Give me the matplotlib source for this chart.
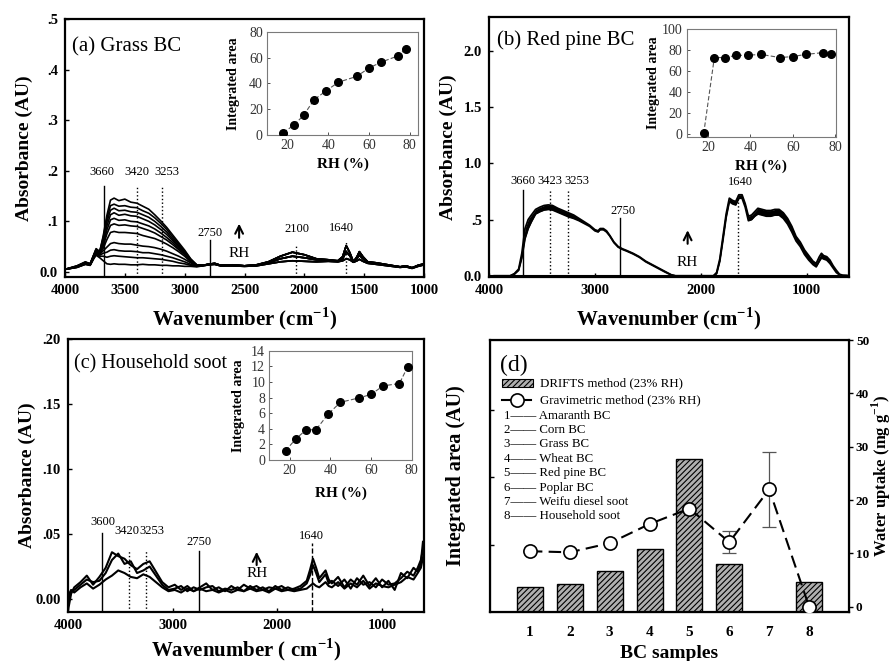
import matplotlib
matplotlib.use("Agg")
import matplotlib.pyplot as plt
from matplotlib.patches import Rectangle

plt.rcParams['font.family'] = ['Liberation Serif', 'DejaVu Serif']
plt.rcParams['mathtext.fontset'] = 'custom'
plt.rcParams['mathtext.rm'] = 'Liberation Serif'
plt.rcParams['mathtext.bf'] = 'Liberation Serif:bold'
plt.rcParams['hatch.linewidth'] = 0.8

# ---------------- data: panel (a) Grass BC ----------------
W_OH = [4000, 3900, 3830, 3790, 3760, 3740, 3710, 3680, 3650, 3620, 3590, 3550, 3500,
        3450, 3400, 3350, 3300, 3250, 3200, 3150, 3100, 3050, 3000, 2950, 2900]
A_OH = [
    [0.005, 0.009, 0.015, 0.013, 0.026, 0.033, 0.028, 0.022, 0.016, 0.015, 0.016, 0.015, 0.015, 0.014, 0.014, 0.015, 0.014, 0.014, 0.013, 0.013, 0.012, 0.012, 0.011, 0.011, 0.010],
    [0.005, 0.009, 0.015, 0.013, 0.027, 0.035, 0.031, 0.031, 0.029, 0.031, 0.032, 0.031, 0.030, 0.029, 0.028, 0.028, 0.027, 0.026, 0.025, 0.023, 0.021, 0.018, 0.016, 0.013, 0.011],
    [0.005, 0.009, 0.016, 0.014, 0.028, 0.037, 0.033, 0.037, 0.039, 0.043, 0.044, 0.042, 0.041, 0.041, 0.040, 0.038, 0.038, 0.036, 0.034, 0.031, 0.028, 0.024, 0.020, 0.015, 0.012],
    [0.005, 0.010, 0.016, 0.014, 0.029, 0.039, 0.035, 0.042, 0.049, 0.056, 0.058, 0.056, 0.055, 0.055, 0.053, 0.051, 0.050, 0.048, 0.045, 0.041, 0.036, 0.031, 0.025, 0.018, 0.012],
    [0.005, 0.010, 0.017, 0.014, 0.030, 0.040, 0.036, 0.047, 0.064, 0.078, 0.080, 0.078, 0.078, 0.077, 0.076, 0.072, 0.069, 0.066, 0.061, 0.055, 0.048, 0.040, 0.031, 0.020, 0.013],
    [0.005, 0.010, 0.017, 0.015, 0.031, 0.041, 0.037, 0.052, 0.075, 0.092, 0.095, 0.092, 0.093, 0.091, 0.090, 0.086, 0.082, 0.077, 0.070, 0.063, 0.054, 0.044, 0.034, 0.021, 0.013],
    [0.005, 0.011, 0.018, 0.015, 0.032, 0.042, 0.038, 0.057, 0.083, 0.103, 0.106, 0.102, 0.103, 0.100, 0.099, 0.095, 0.091, 0.085, 0.077, 0.068, 0.058, 0.047, 0.036, 0.022, 0.013],
    [0.005, 0.011, 0.018, 0.015, 0.032, 0.043, 0.038, 0.062, 0.091, 0.113, 0.117, 0.112, 0.114, 0.111, 0.110, 0.105, 0.100, 0.093, 0.084, 0.074, 0.062, 0.050, 0.038, 0.023, 0.013],
    [0.005, 0.011, 0.019, 0.016, 0.033, 0.044, 0.039, 0.066, 0.099, 0.122, 0.126, 0.121, 0.122, 0.119, 0.118, 0.113, 0.108, 0.100, 0.090, 0.079, 0.065, 0.052, 0.039, 0.024, 0.014],
    [0.005, 0.012, 0.019, 0.016, 0.033, 0.045, 0.040, 0.069, 0.106, 0.131, 0.134, 0.130, 0.131, 0.128, 0.127, 0.121, 0.116, 0.107, 0.096, 0.084, 0.069, 0.055, 0.041, 0.025, 0.014],
    [0.005, 0.012, 0.020, 0.016, 0.034, 0.046, 0.040, 0.072, 0.112, 0.142, 0.146, 0.141, 0.144, 0.138, 0.136, 0.130, 0.124, 0.113, 0.101, 0.088, 0.073, 0.058, 0.043, 0.026, 0.014],
]
W_T = [2850, 2800, 2750, 2700, 2600, 2500, 2400, 2300, 2200, 2100, 2000, 1900, 1800, 1720,
       1680, 1650, 1620, 1590, 1560, 1540, 1510, 1470, 1400, 1300, 1200, 1150, 1100, 1050, 1000]
TAIL_LOW = [0.012, 0.014, 0.015, 0.012, 0.012, 0.011, 0.012, 0.016, 0.020, 0.022, 0.021, 0.020, 0.021, 0.020,
            0.022, 0.026, 0.024, 0.019, 0.022, 0.025, 0.021, 0.017, 0.015, 0.012, 0.009, 0.010, 0.007, 0.011, 0.014]
TAIL_MID = [0.013, 0.015, 0.016, 0.013, 0.013, 0.012, 0.013, 0.018, 0.026, 0.031, 0.028, 0.024, 0.023, 0.021,
            0.026, 0.040, 0.032, 0.020, 0.027, 0.033, 0.026, 0.019, 0.017, 0.013, 0.010, 0.011, 0.008, 0.012, 0.015]
TAIL_HIGH = [0.013, 0.015, 0.017, 0.013, 0.014, 0.012, 0.014, 0.020, 0.031, 0.039, 0.034, 0.026, 0.024, 0.022,
             0.030, 0.052, 0.038, 0.020, 0.030, 0.040, 0.030, 0.020, 0.018, 0.014, 0.010, 0.012, 0.008, 0.013, 0.016]
A_TAILS = [TAIL_LOW, TAIL_LOW, TAIL_LOW, TAIL_MID, TAIL_MID, TAIL_MID, TAIL_MID,
           TAIL_HIGH, TAIL_HIGH, TAIL_HIGH, TAIL_HIGH]

RH = [18, 23, 28, 33, 39, 45, 54, 60, 66, 74, 78]
AREA_A = [1.8, 7.5, 15.3, 27.3, 34.3, 41.0, 45.5, 52.0, 56.6, 61.3, 66.8]
AREA_B = [0.6, 73.0, 73.0, 75.0, 75.3, 76.0, 73.0, 74.0, 76.0, 77.7, 76.4]
AREA_C = [1.2, 2.7, 3.85, 3.9, 5.9, 7.4, 7.95, 8.4, 9.5, 9.8, 11.9]

# ---------------- data: panel (b) Red pine BC ----------------
W_B = [3950, 3800, 3760, 3720, 3690, 3660, 3630, 3600, 3560, 3520, 3480, 3440, 3400, 3350, 3300,
       3250, 3200, 3150, 3100, 3050, 3000, 2970, 2950, 2920, 2890, 2860, 2820, 2780, 2740, 2700,
       2640, 2580, 2520, 2460, 2400, 2340, 2280, 2240, 2000, 1880, 1850, 1820, 1790, 1760, 1730,
       1700, 1670, 1640, 1610, 1580, 1550, 1520, 1490, 1460, 1420, 1380, 1340, 1300, 1260, 1220,
       1180, 1140, 1100, 1060, 1020, 980, 940, 910, 880, 860, 840, 810, 780, 750, 720, 690, 660, 620]
RP_HI = [0.0, 0.0, 0.02, 0.06, 0.20, 0.42, 0.50, 0.54, 0.59, 0.61, 0.625, 0.63, 0.625, 0.60, 0.58,
         0.56, 0.54, 0.51, 0.48, 0.45, 0.41, 0.40, 0.42, 0.42, 0.40, 0.36, 0.30, 0.26, 0.24, 0.225,
         0.20, 0.17, 0.13, 0.10, 0.07, 0.04, 0.01, 0.0, 0.0, 0.0, 0.03, 0.15, 0.35, 0.55, 0.69,
         0.67, 0.66, 0.72, 0.72, 0.64, 0.53, 0.54, 0.57, 0.60, 0.59, 0.58, 0.58, 0.59, 0.59, 0.56,
         0.51, 0.44, 0.35, 0.30, 0.23, 0.18, 0.13, 0.11, 0.17, 0.20, 0.18, 0.17, 0.14, 0.09, 0.05, 0.015, 0.005, 0.003]
RP_LO = [0.0, 0.0, 0.015, 0.05, 0.16, 0.33, 0.42, 0.48, 0.55, 0.57, 0.585, 0.59, 0.585, 0.565, 0.545,
         0.525, 0.51, 0.49, 0.465, 0.44, 0.40, 0.39, 0.41, 0.41, 0.39, 0.355, 0.295, 0.255, 0.235, 0.22,
         0.195, 0.165, 0.125, 0.095, 0.065, 0.035, 0.008, 0.0, 0.0, 0.0, 0.02, 0.13, 0.32, 0.52, 0.66,
         0.64, 0.63, 0.69, 0.69, 0.61, 0.49, 0.50, 0.53, 0.55, 0.54, 0.53, 0.53, 0.54, 0.54, 0.51,
         0.46, 0.39, 0.31, 0.26, 0.19, 0.14, 0.10, 0.08, 0.13, 0.16, 0.15, 0.14, 0.11, 0.07, 0.03, 0.008, 0.003, 0.002]
RP_ZERO_W = [4000, 600]
RP_ZERO = [0.0, 0.0]

# ---------------- data: panel (c) Household soot ----------------
W_C = [4000, 3970, 3940, 3880, 3820, 3760, 3700, 3640, 3580, 3520, 3460, 3400, 3340, 3280, 3220,
       3160, 3100, 3040, 2980, 2920, 2860, 2800, 2740, 2680, 2620, 2560, 2500, 2440, 2380, 2320,
       2260, 2200, 2140, 2080, 2020, 1960, 1900, 1840, 1780, 1720, 1690, 1660, 1630, 1600, 1570,
       1540, 1510, 1480, 1420, 1360, 1300, 1240, 1180, 1120, 1060, 1000, 940, 880, 820, 760, 700,
       660, 630, 610]
C1 = [-0.009, 0.004, 0.009, 0.013, 0.018, 0.011, 0.017, 0.024, 0.036, 0.033, 0.031, 0.026, 0.023, 0.027, 0.029,
      0.021, 0.013, 0.009, 0.011, 0.007, 0.010, 0.006, 0.009, 0.012, 0.007, 0.009, 0.006, 0.010, 0.007, 0.011,
      0.008, 0.010, 0.007, 0.009, 0.008, 0.010, 0.007, 0.008, 0.010, 0.014, 0.022, 0.031, 0.024, 0.016, 0.019,
      0.022, 0.015, 0.012, 0.017, 0.009, 0.015, 0.011, 0.018, 0.010, 0.016, 0.009, 0.014, 0.007, 0.020, 0.016, 0.024,
      0.021, 0.028, 0.044]
C2 = [-0.004, 0.006, 0.007, 0.011, 0.015, 0.013, 0.014, 0.020, 0.030, 0.035, 0.027, 0.029, 0.020, 0.022, 0.025,
      0.018, 0.011, 0.007, 0.008, 0.010, 0.006, 0.009, 0.007, 0.009, 0.010, 0.006, 0.008, 0.007, 0.009, 0.006,
      0.010, 0.007, 0.009, 0.006, 0.010, 0.007, 0.009, 0.007, 0.008, 0.012, 0.018, 0.026, 0.020, 0.013, 0.016,
      0.019, 0.012, 0.014, 0.010, 0.015, 0.008, 0.016, 0.011, 0.013, 0.009, 0.015, 0.011, 0.012, 0.016, 0.021, 0.018,
      0.024, 0.030, 0.038]
C3 = [0.002, 0.007, 0.005, 0.009, 0.012, 0.008, 0.011, 0.015, 0.018, 0.022, 0.020, 0.017, 0.016, 0.019, 0.017,
      0.013, 0.009, 0.006, 0.007, 0.005, 0.008, 0.006, 0.008, 0.006, 0.007, 0.005, 0.007, 0.005, 0.007, 0.006,
      0.008, 0.006, 0.007, 0.005, 0.008, 0.006, 0.007, 0.006, 0.007, 0.008, 0.010, 0.012, 0.010, 0.009, 0.011,
      0.013, 0.010, 0.009, 0.013, 0.008, 0.012, 0.009, 0.014, 0.008, 0.012, 0.010, 0.009, 0.011, 0.013, 0.017, 0.015,
      0.020, 0.024, 0.032]

# ---------------- data: panel (d) ----------------
SAMPLES = [1, 2, 3, 4, 5, 6, 7, 8]
DRIFTS = [3.7, 4.2, 6.1, 9.3, 22.8, 7.2, 0.0, 4.4]
GRAV = [10.4, 10.2, 11.9, 15.5, 18.4, 12.1, 22.0, 0.0]
GRAV_ERR = [0, 0, 0, 0, 0, 2.1, 7.0, 0]
SAMPLE_NAMES = ['Amaranth BC', 'Corn BC', 'Grass BC', 'Wheat BC', 'Red pine BC',
                'Poplar BC', 'Weifu diesel soot', 'Household soot']

BOLD = 'bold'
fig = plt.figure(figsize=(8.93, 6.61), dpi=100)


def style_main(ax):
    for s in ax.spines.values():
        s.set_linewidth(1.6)
    ax.tick_params(direction='in', length=3, width=1, labelsize=10.5, pad=5)
    for lab in ax.get_xticklabels() + ax.get_yticklabels():
        lab.set_fontweight(BOLD)


def make_inset(rect, area, xlim, ylim, yticks, xlab_y, ylab_x):
    ins = fig.add_axes(rect)
    ins.plot(RH, area, color='#555555', lw=0.8, ls=(0, (4, 2)), zorder=2)
    ins.plot(RH, area, 'o', color='k', ms=5.5, zorder=3)
    ins.set_xlim(*xlim)
    ins.set_ylim(*ylim)
    ins.set_xticks([20, 40, 60, 80])
    ins.set_yticks(yticks)
    for s in ins.spines.values():
        s.set_linewidth(0.8)
        s.set_color('#7a7a7a')
    ins.tick_params(direction='in', length=2, width=0.6, labelsize=10, pad=3, colors='#333333')
    ins.set_ylabel('Integrated area', fontsize=10, fontweight=BOLD)
    ins.set_xlabel('RH (%)', fontsize=11, fontweight=BOLD)
    ins.yaxis.set_label_coords(ylab_x, 0.5)
    ins.xaxis.set_label_coords(0.5, xlab_y)
    return ins


def vlines(ax, pos, top, styles, texts, tx, ty, ybot, fs=9):
    for p, t, st in zip(pos, top, styles):
        ax.plot([p, p], [ybot, t], color='k', lw=1.0, ls=st, zorder=4)
    for s, x, y in zip(texts, tx, ty):
        ax.text(x, y, s, ha='center', va='center', fontsize=fs)


# ================= panel (a) =================
axA = fig.add_axes([0.0728, 0.581, 0.402, 0.390])
for oh, tail in zip(A_OH, A_TAILS):
    axA.plot(W_OH + W_T, oh + tail, color='k', lw=1.2)
axA.set_xlim(4000, 1000)
axA.set_ylim(-0.01, 0.5)
axA.set_xticks([4000, 3500, 3000, 2500, 2000, 1500, 1000])
axA.set_yticks([0, 0.1, 0.2, 0.3, 0.4, 0.5])
axA.set_yticklabels(['0.0', '.1', '.2', '.3', '.4', '.5'])
style_main(axA)
axA.set_ylabel('Absorbance (AU)', fontsize=14, fontweight=BOLD)
axA.set_xlabel(r'Wavenumber (cm$^{\mathbf{-1}}$)', fontsize=15, fontweight=BOLD)
axA.yaxis.set_label_coords(-0.089, 0.5)
axA.xaxis.set_label_coords(0.5, -0.109)
axA.text(3940, 0.446, '(a) Grass BC', fontsize=15, va='center', ha='left')
vlines(axA, [3675, 3398, 3192, 2790, 2070, 1650], [0.169, 0.17, 0.17, 0.064, 0.053, 0.061],
       ['-', ':', ':', '-', ':', ':'], ['3660', '3420', '3253', '2750', '2100', '1640'],
       [3694, 3401, 3150, 2790, 2063, 1688], [0.197, 0.197, 0.197, 0.077, 0.085, 0.087], -0.01)
axA.annotate('', xy=(2545, 0.101), xytext=(2545, 0.062),
             arrowprops=dict(arrowstyle='->', lw=1.5, color='k', mutation_scale=14))
axA.text(2545, 0.037, 'RH', ha='center', va='center', fontsize=11)
make_inset([0.299, 0.7958, 0.169, 0.1558], AREA_A, (10, 84), (0, 80), [0, 20, 40, 60, 80], -0.22, -0.18)

# ================= panel (b) =================
axB = fig.add_axes([0.5476, 0.581, 0.4031, 0.3933])
axB.plot(RP_ZERO_W, RP_ZERO, color='k', lw=1.5)
axB.fill_between(W_B, RP_LO, RP_HI, color='k', lw=0)
axB.plot(W_B, RP_HI, color='k', lw=1.3)
axB.plot(W_B, RP_LO, color='k', lw=1.3)
axB.set_xlim(4000, 600)
axB.set_ylim(-0.01, 2.3)
axB.set_xticks([4000, 3000, 2000, 1000])
axB.set_yticks([0, 0.5, 1.0, 1.5, 2.0])
axB.set_yticklabels(['0.0', '.5', '1.0', '1.5', '2.0'])
style_main(axB)
axB.set_ylabel('Absorbance (AU)', fontsize=14, fontweight=BOLD)
axB.set_xlabel(r'Wavenumber (cm$^{\mathbf{-1}}$)', fontsize=15, fontweight=BOLD)
axB.yaxis.set_label_coords(-0.089, 0.5)
axB.xaxis.set_label_coords(0.5, -0.11)
axB.text(3925, 2.09, '(b) Red pine BC', fontsize=15, va='center', ha='left')
vlines(axB, [3676, 3424, 3251, 2763, 1646], [0.765, 0.765, 0.765, 0.512, 0.74],
       ['-', ':', ':', '-', ':'], ['3660', '3423', '3253', '2750', '1640'],
       [3676, 3424, 3172, 2738, 1630], [0.84, 0.84, 0.84, 0.58, 0.83], -0.01)
axB.annotate('', xy=(2124, 0.43), xytext=(2124, 0.26),
             arrowprops=dict(arrowstyle='->', lw=1.5, color='k', mutation_scale=14))
axB.text(2124, 0.12, 'RH', ha='center', va='center', fontsize=11)
make_inset([0.769, 0.7932, 0.1672, 0.1625], AREA_B, (10, 80.3), (-2.5, 100),
           [0, 20, 40, 60, 80, 100], -0.215, -0.18)

# ================= panel (c) =================
axC = fig.add_axes([0.0761, 0.0741, 0.3987, 0.413])
for c in (C3, C2, C1):
    axC.plot(W_C, c, color='k', lw=1.5)
axC.set_xlim(4000, 600)
axC.set_ylim(-0.01, 0.20)
axC.set_xticks([4000, 3000, 2000, 1000])
axC.set_yticks([0, 0.05, 0.10, 0.15, 0.20])
axC.set_yticklabels(['0.00', '.05', '.10', '.15', '.20'])
style_main(axC)
axC.set_ylabel('Absorbance (AU)', fontsize=14, fontweight=BOLD)
axC.set_xlabel(r'Wavenumber ( cm$^{\mathbf{-1}}$)', fontsize=15, fontweight=BOLD)
axC.yaxis.set_label_coords(-0.09, 0.5)
axC.xaxis.set_label_coords(0.5, -0.088)
axC.text(3940, 0.181, '(c) Household soot', fontsize=14.5, va='center', ha='left')
vlines(axC, [3672, 3417, 3255, 2752, 1667], [0.0508, 0.038, 0.038, 0.037, 0.043],
       ['-', ':', ':', '-', '--'], ['3600', '3420', '3253', '2750', '1640'],
       [3669, 3440, 3201, 2749, 1679], [0.059, 0.052, 0.052, 0.044, 0.0487], -0.01)
axC.annotate('', xy=(2198, 0.0385), xytext=(2198, 0.024),
             arrowprops=dict(arrowstyle='->', lw=1.5, color='k', mutation_scale=14))
axC.text(2198, 0.0195, 'RH', ha='center', va='center', fontsize=11)
make_inset([0.3016, 0.304, 0.160, 0.1654], AREA_C, (10, 80.3), (0, 14),
           [0, 2, 4, 6, 8, 10, 12, 14], -0.24, -0.17)

# ================= panel (d) =================
axD = fig.add_axes([0.5487, 0.0741, 0.402, 0.4115])
axD.bar(SAMPLES, DRIFTS, width=0.65, color='#b0b0b0', edgecolor='k', lw=1.0, hatch='//////', zorder=2)
axD.set_xlim(0.0, 9.0)
axD.set_ylim(0, 40.4)
axD.set_yticks([10, 20, 30])
axD.set_yticklabels([])
axD.set_xticks(SAMPLES)
for s in axD.spines.values():
    s.set_linewidth(1.6)
axD.tick_params(axis='y', direction='in', length=3, width=1)
axD.tick_params(axis='x', length=0, labelsize=11, pad=10)
for lab in axD.get_xticklabels():
    lab.set_fontweight(BOLD)
axD.set_ylabel('Integrated area (AU)', fontsize=14.5, fontweight=BOLD)
axD.yaxis.set_label_coords(-0.067, 0.5)
axD.set_xlabel('BC samples', fontsize=14, fontweight=BOLD)
axD.xaxis.set_label_coords(0.5, -0.12)

axD2 = axD.twinx()
axD2.set_ylim(-1, 50)
axD2.errorbar(SAMPLES, GRAV, yerr=GRAV_ERR, fmt='none', ecolor='#555555', elinewidth=0.9,
              capsize=5, capthick=0.9, zorder=3)
axD2.plot(SAMPLES, GRAV, color='k', lw=1.5, ls=(0, (6, 3)), zorder=4)
axD2.plot(SAMPLES, GRAV, 'o', ms=9.5, mfc='white', mec='k', mew=1.2, zorder=5)
axD2.set_yticks([0, 10, 20, 30, 40, 50])
axD2.tick_params(axis='y', direction='out', length=3, width=1, labelsize=9.5, pad=2)
for lab in axD2.get_yticklabels():
    lab.set_fontweight(BOLD)
axD2.set_ylabel(r'Water uptake (mg g$^{\mathbf{-1}}$)', fontsize=12, fontweight=BOLD)
axD2.yaxis.set_label_coords(1.058, 0.5)

# legend of panel (d)
axD.text(0.028, 0.908, '(d)', transform=axD.transAxes, fontsize=17, va='center', ha='left')
axD.add_patch(Rectangle((0.033, 0.827), 0.088, 0.030, transform=axD.transAxes,
                        facecolor='#b0b0b0', edgecolor='k', lw=0.8, hatch='//////', zorder=6))
axD.text(0.139, 0.841, 'DRIFTS method (23% RH)', transform=axD.transAxes, fontsize=9.3, va='center')
axD.plot([0.033, 0.115], [0.779, 0.779], transform=axD.transAxes, color='k', lw=1.5, zorder=6)
axD.plot([0.074], [0.779], 'o', transform=axD.transAxes, ms=9.5, mfc='white', mec='k', mew=1.2, zorder=7)
axD.text(0.139, 0.779, 'Gravimetric method (23% RH)', transform=axD.transAxes, fontsize=9.3, va='center')
for i, name in enumerate(SAMPLE_NAMES):
    axD.text(0.040, 0.722 - i * 0.0529, f'{SAMPLES[i]}—— {name}', transform=axD.transAxes,
             fontsize=9.3, va='center')

fig.savefig('out.png', dpi=100)
